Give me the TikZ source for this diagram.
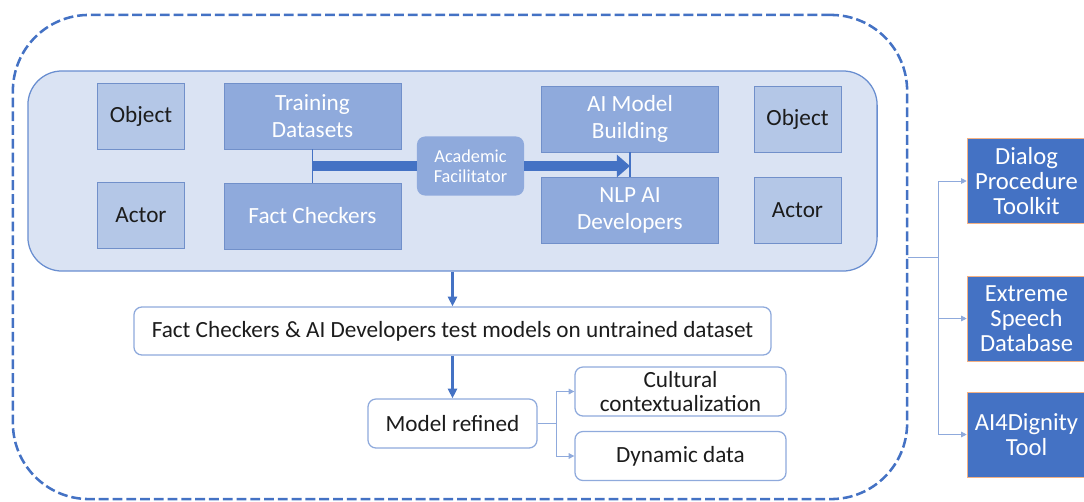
\documentclass[tikz,border=0pt]{standalone}
\usepackage{fontspec}
\setmainfont{Carlito}
\usetikzlibrary{arrows.meta}
\definecolor{mainblue}{HTML}{4472C4}
\definecolor{paleblue}{HTML}{DAE3F3}
\definecolor{lightblue}{HTML}{B4C7E7}
\definecolor{midblue}{HTML}{8FAADC}
\definecolor{edgeblue}{HTML}{7190CA}
\definecolor{peach}{HTML}{F4B183}
\definecolor{ink}{HTML}{1C1C1C}

\begin{document}
\begin{tikzpicture}[x=0.025cm,y=-0.025cm]
\tikzstyle{every node}+=[inner sep=0pt,align=center,text=ink,font=\fontsize{16.5}{19}\selectfont]
\tikzstyle{role}=[draw=edgeblue,fill=lightblue,minimum width=2.175cm,minimum height=1.65cm]
\tikzstyle{task}=[draw=edgeblue,fill=midblue,text=white,minimum width=4.425cm,minimum height=1.65cm]
\tikzstyle{plain}=[draw=midblue,fill=white,rounded corners=0.2cm,line width=0.9pt,minimum height=1.225cm]
\tikzstyle{tool}=[draw=peach,fill=mainblue,text=white,minimum width=2.975cm,minimum height=2.125cm,font=\fontsize{17.5}{17.7}\selectfont]
\tikzstyle{down}=[draw=mainblue,line width=1.8pt,-{Triangle[length=7pt,width=6.5pt]}]
\tikzstyle{feed}=[draw=midblue,line width=0.6pt]
\tikzstyle{tip}=[-{Triangle[length=4pt,width=4pt]}]
\useasboundingbox (0,0) rectangle (1084,501);
\node (frame) at (460,257) [draw=mainblue,dash pattern=on 7pt off 2.8pt,line width=1.8pt,rounded corners=1.9cm,minimum width=22.35cm,minimum height=12.1cm] {};
\node (panel) at (452.5,171) [draw=mainblue!80,fill=paleblue,line width=0.9pt,rounded corners=0.85cm,minimum width=21.225cm,minimum height=5cm] {};
\node (objL) at (141,116) [role] {Object};
\node (actL) at (141,215.5) [role] {Actor};
\node (train) at (312.5,116) [task] {Training\\Datasets};
\node (fact) at (312.5,216) [task] {Fact Checkers};
\node (aimb) at (630,119) [task] {AI Model\\Building};
\node (nlp) at (630,210.5) [task] {NLP AI\\Developers};
\node (objR) at (797.5,119) [role] {Object};
\node (actR) at (797.5,210.5) [role] {Actor};
\draw [mainblue,line width=1pt] (train.south) -- (fact.north);
\draw [mainblue,line width=1pt] (aimb.south) -- (nlp.north);
\node (acad) at (470.5,166) [fill=midblue,text=white,rounded corners=0.2cm,minimum width=2.675cm,minimum height=1.475cm,font=\fontsize{13}{14.5}\selectfont] {Academic\\Facilitator};
\draw [mainblue,line width=7pt] (train.south |- acad.west) -- (acad.west);
\draw [mainblue,line width=7pt,-{Triangle[length=0.33cm,width=0.55cm]}] (acad.east) -- (aimb.south |- acad.east);
\node (test) at (452.5,331) [plain,minimum width=15.925cm,minimum height=1.2cm] {Fact Checkers \& AI Developers test models on untrained dataset};
\node (model) at (452.5,423.5) [plain,minimum width=4.225cm] {Model refined};
\node (cult) at (680.5,391.5) [plain,minimum width=5.275cm,font=\fontsize{16.5}{17.7}\selectfont] {Cultural\\contextualization};
\node (dyn) at (680.5,456) [plain,minimum width=5.275cm] {Dynamic data};
\draw [down] (panel.south) -- (test.north);
\draw [down] (test.south) -- (model.north);
\draw [feed] (model.east) -- ++(19,0) coordinate (split);
\draw [feed,tip] (split) |- (cult.west);
\draw [feed,tip] (split) |- (dyn.west);
\node (dialog) at (1026.5,181) [tool] {Dialog\\Procedure\\Toolkit};
\node (speech) at (1026.5,318.5) [tool] {Extreme\\Speech\\Database};
\node (dignity) at (1026.5,434.5) [tool] {AI4Dignity\\Tool};
\draw [feed] (frame.east) -- ++(30,0) coordinate (hub);
\draw [feed,tip] (hub) |- (dialog.west);
\draw [feed,tip] (hub) |- (speech.west);
\draw [feed,tip] (hub) |- (dignity.west);
\end{tikzpicture}
\end{document}
